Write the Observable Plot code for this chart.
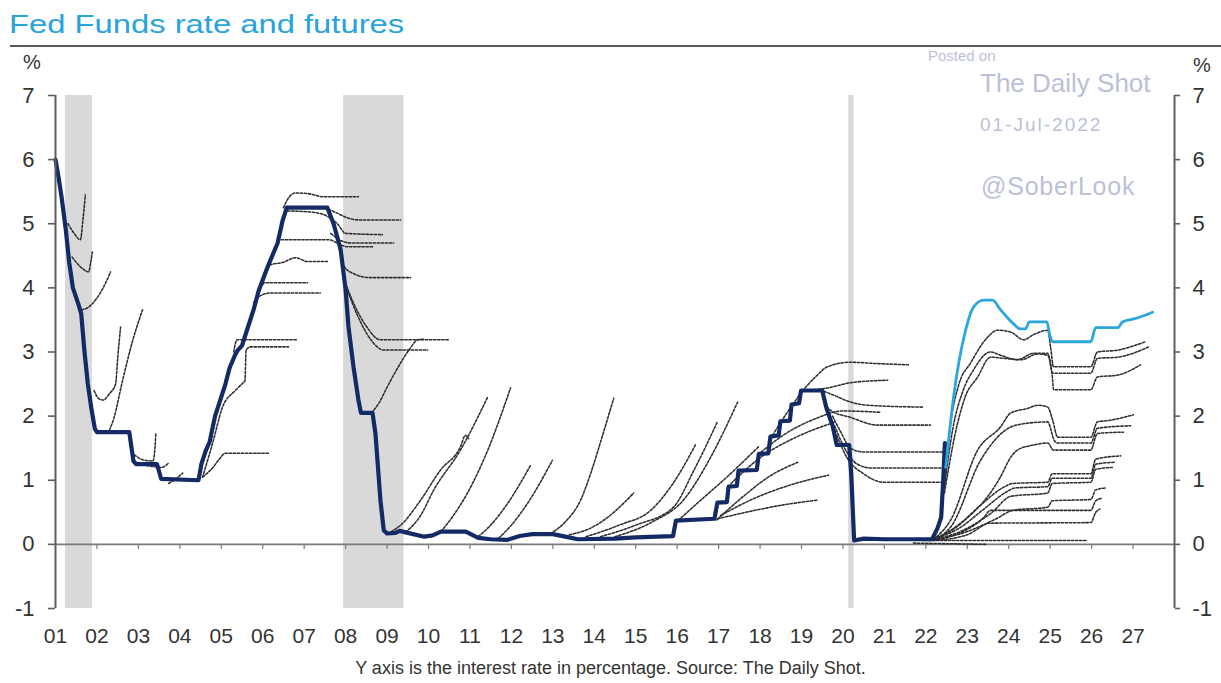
<!DOCTYPE html>
<html>
<head>
<meta charset="utf-8">
<script src="https://cdn.jsdelivr.net/npm/d3@7"></script>
<script src="https://cdn.jsdelivr.net/npm/@observablehq/plot@0.6"></script>
<style>
  body { margin: 0; background: #fff; }
  #wrap { position: relative; width: 1221px; height: 683px; overflow: hidden; background: #fff; font-family: Arial, "Liberation Sans", sans-serif; }
  #chart { position: absolute; left: 0; top: 0; }
  .abs { position: absolute; white-space: nowrap; line-height: 1; }
  #title { left: 9px; top: 11px; font-size: 26px; color: #29a3db; transform: scaleX(1.26); transform-origin: 0 0; }
  #rule { left: 10px; top: 45px; width: 1211px; height: 2px; background: #5a5a5a; }
  .pct { font-size: 20px; color: #333; }
  .wm { color: #bcbfd9; }
  #posted { left: 928px; top: 48px; font-size: 15px; }
  #caption { left: 0; width: 1221px; text-align: center; top: 659px; font-size: 18px; color: #333; }
</style>
</head>
<body>
<div id="wrap">
  <div id="chart"></div>
  <div class="abs" id="title">Fed Funds rate and futures</div>
  <div class="abs" id="rule"></div>
  <div class="abs wm" id="posted">Posted on</div>
  <div class="abs pct" style="left:23px;top:52px;">%</div>
  <div class="abs pct" style="left:1193px;top:55px;">%</div>
  <div class="abs wm" style="left:980px;top:70px;font-size:26px;">The Daily Shot</div>
  <div class="abs wm" style="left:980px;top:115px;font-size:19px;letter-spacing:2px;">01-Jul-2022</div>
  <div class="abs wm" style="left:981px;top:174px;font-size:25px;letter-spacing:0.8px;">@SoberLook</div>
  <div class="abs" id="caption">Y axis is the interest rate in percentage. Source: The Daily Shot.</div>
</div>
<script>
// ---------- data ----------
const yearTicks = [2001,2002,2003,2004,2005,2006,2007,2008,2009,2010,2011,2012,2013,2014,2015,2016,2017,2018,2019,2020,2021,2022,2023,2024,2025,2026,2027];
const yearLabels = ["01","02","03","04","05","06","07","08","09","10","11","12","13","14","15","16","17","18","19","20","21","22","23","24","25","26","27"];
const yTicks = [-1,0,1,2,3,4,5,6,7];

const recessionStart = [2001.24, 2007.95, 2020.14];
const recessionEnd   = [2001.89, 2009.41, 2020.27];

// Fed Funds effective rate [year, %]
const fedFunds = [
  [2001.0,6.0],[2001.08,5.7],[2001.15,5.4],[2001.25,4.9],[2001.33,4.4],[2001.42,4.0],[2001.55,3.75],[2001.62,3.6],
  [2001.7,3.0],[2001.78,2.5],[2001.87,2.1],[2001.95,1.8],[2002.0,1.75],[2002.78,1.75],[2002.88,1.3],[2002.95,1.25],
  [2003.45,1.25],[2003.55,1.02],[2004.45,1.0],[2004.52,1.25],[2004.62,1.45],[2004.72,1.6],[2004.85,2.0],[2004.95,2.2],
  [2005.1,2.5],[2005.2,2.75],[2005.33,2.95],[2005.4,3.03],[2005.5,3.1],[2005.6,3.3],[2005.78,3.66],[2005.9,3.95],
  [2006.12,4.33],[2006.36,4.7],[2006.48,5.05],[2006.58,5.25],[2007.56,5.25],[2007.71,5.0],[2007.88,4.6],[2008.0,3.97],
  [2008.07,3.39],[2008.19,2.77],[2008.31,2.25],[2008.37,2.05],[2008.65,2.05],[2008.72,1.73],[2008.84,0.69],[2008.92,0.22],
  [2009.0,0.17],[2009.2,0.18],[2009.3,0.21],[2009.5,0.18],[2009.9,0.12],[2010.1,0.14],[2010.3,0.2],[2010.9,0.2],
  [2011.2,0.1],[2011.5,0.08],[2011.9,0.07],[2012.2,0.13],[2012.5,0.16],[2013.0,0.16],[2013.3,0.12],[2013.6,0.08],
  [2014.5,0.09],[2015.0,0.11],[2015.9,0.13],[2015.97,0.37],[2016.9,0.4],[2016.97,0.65],[2017.2,0.66],[2017.24,0.9],
  [2017.44,0.91],[2017.48,1.15],[2017.92,1.16],[2017.97,1.41],[2018.2,1.42],[2018.25,1.68],[2018.45,1.7],[2018.49,1.92],
  [2018.72,1.93],[2018.76,2.18],[2018.94,2.2],[2018.99,2.4],[2019.5,2.4],[2019.6,2.13],[2019.75,1.85],[2019.85,1.55],
  [2020.15,1.55],[2020.2,1.1],[2020.27,0.06],[2020.5,0.09],[2021.0,0.08],[2021.5,0.08],[2022.15,0.08],[2022.28,0.25],
  [2022.37,0.42],[2022.42,1.0],[2022.46,1.58]
];

// Latest futures curve (01-Jul-2022)
const latestCurve = [
  [2022.48,1.2],[2022.67,2.3],[2022.96,3.34],[2023.15,3.7],[2023.39,3.81],[2023.61,3.81],[2023.8,3.66],[2023.95,3.55],
  [2024.1,3.45],[2024.28,3.36],[2024.4,3.36],[2024.5,3.47],[2024.92,3.47],[2024.99,3.27],[2025.06,3.16],[2025.98,3.16],
  [2026.1,3.38],[2026.63,3.38],[2026.75,3.47],[2027.1,3.53],[2027.47,3.62]
];

// Historical futures curves, grouped by era
const curves2001to2006 = [
  [[2001.3,5.0],[2001.45,4.85],[2001.6,4.75],[2001.66,5.05],[2001.72,5.45]],
  [[2001.4,4.48],[2001.6,4.33],[2001.8,4.25],[2001.85,4.4],[2001.89,4.56]],
  [[2001.63,3.66],[2001.75,3.68],[2001.95,3.8],[2002.15,4.0],[2002.33,4.25]],
  [[2001.93,2.4],[2002.05,2.27],[2002.15,2.25],[2002.3,2.35],[2002.45,2.5],[2002.5,2.9],[2002.57,3.39]],
  [[2002.3,1.78],[2002.4,1.95],[2002.62,2.56],[2002.85,3.15],[2003.1,3.66]],
  [[2002.9,1.4],[2003.1,1.32],[2003.35,1.3],[2003.4,1.5],[2003.42,1.73]],
  [[2003.0,1.25],[2003.3,1.22],[2003.55,1.2],[2003.73,1.27]],
  [[2003.73,0.95],[2003.9,1.02],[2004.07,1.11]],
  [[2004.55,1.05],[2004.8,1.2],[2004.93,1.31],[2005.1,1.42],[2006.14,1.42]],
  [[2004.55,1.05],[2004.8,1.6],[2005.03,2.14],[2005.34,2.4],[2005.51,2.51],[2005.57,2.55],[2005.6,3.03],[2005.7,3.08],[2006.62,3.08]],
  [[2005.3,3.0],[2005.38,3.19],[2006.84,3.19]],
  [[2006.0,4.05],[2006.05,4.08],[2007.08,4.08]],
  [[2005.78,3.77],[2005.95,3.88],[2006.2,3.92],[2007.39,3.92]],
  [[2006.12,4.3],[2006.19,4.36],[2006.5,4.4],[2006.79,4.47],[2007.08,4.41],[2007.56,4.41]]
];
const curves2006to2010 = [
  [[2006.35,4.75],[2007.6,4.75],[2007.85,4.68],[2008.05,4.64],[2008.65,4.64]],
  [[2006.5,5.25],[2006.6,5.38],[2006.79,5.48],[2007.1,5.47],[2007.47,5.42],[2008.31,5.42]],
  [[2007.5,5.25],[2007.75,5.18],[2008.05,5.09],[2008.3,5.06],[2009.33,5.06]],
  [[2006.6,5.2],[2007.2,5.18],[2007.6,5.1],[2007.8,5.0],[2008.0,4.85],[2008.89,4.83]],
  [[2007.64,4.85],[2007.85,4.75],[2008.12,4.7],[2009.16,4.7]],
  [[2007.75,4.9],[2007.85,4.6],[2007.97,4.33],[2008.2,4.22],[2008.6,4.16],[2009.57,4.16]],
  [[2007.98,4.1],[2008.2,3.75],[2008.5,3.4],[2008.84,3.19],[2010.48,3.19]],
  [[2008.05,3.95],[2008.3,3.55],[2008.6,3.2],[2008.92,3.03],[2009.98,3.03]],
  [[2008.62,2.05],[2008.8,2.2],[2009.0,2.45],[2009.3,2.8],[2009.55,3.05],[2009.74,3.19],[2009.9,3.2]]
];
const curves2009to2017 = [
  [[2009.1,0.2],[2009.33,0.3],[2009.81,0.69],[2010.29,1.16],[2010.77,1.52],[2010.89,1.7],[2010.97,1.65]],
  [[2009.45,0.19],[2009.81,0.45],[2010.12,0.84],[2010.77,1.47],[2011.43,2.3]],
  [[2010.3,0.2],[2010.6,0.45],[2010.94,0.8],[2011.43,1.47],[2011.98,2.44]],
  [[2011.2,0.12],[2011.5,0.3],[2011.91,0.64],[2012.46,1.23]],
  [[2011.7,0.1],[2012.0,0.3],[2012.39,0.64],[2012.99,1.31]],
  [[2012.95,0.17],[2013.3,0.35],[2013.67,0.69],[2013.91,1.1],[2014.2,1.7],[2014.47,2.28]],
  [[2013.4,0.15],[2013.9,0.25],[2014.32,0.42],[2014.95,0.8]],
  [[2013.8,0.12],[2014.6,0.3],[2015.36,0.53],[2015.9,0.95],[2016.44,1.55]],
  [[2014.15,0.12],[2015.0,0.3],[2015.91,0.58],[2016.4,1.15],[2016.97,1.91]],
  [[2014.5,0.12],[2015.4,0.35],[2016.15,0.69],[2016.8,1.35],[2017.46,2.22]]
];
const curves2016to2022 = [
  [[2015.95,0.33],[2016.5,0.65],[2017.2,1.05],[2017.96,1.52]],
  [[2016.95,0.38],[2017.6,0.75],[2018.2,1.05],[2018.91,1.28]],
  [[2017.05,0.45],[2017.8,0.7],[2018.7,0.92],[2019.65,1.08]],
  [[2016.98,0.4],[2017.8,0.52],[2018.6,0.62],[2019.39,0.69]],
  [[2017.3,0.95],[2018.0,1.35],[2018.8,1.65],[2019.82,1.91]],
  [[2017.95,1.4],[2018.6,1.72],[2019.3,1.95],[2019.99,2.08],[2020.91,2.06]],
  [[2018.3,1.7],[2018.7,2.1],[2019.1,2.45],[2019.35,2.62],[2019.63,2.77],[2020.18,2.84],[2020.8,2.82],[2021.58,2.8]],
  [[2019.1,2.4],[2019.4,2.42],[2019.63,2.44],[2020.18,2.52],[2021.08,2.56]],
  [[2019.45,2.41],[2019.8,2.32],[2020.18,2.22],[2020.59,2.17],[2021.95,2.14]],
  [[2019.55,2.2],[2019.7,2.09],[2020.18,1.98],[2020.84,1.86],[2022.11,1.86]],
  [[2019.75,2.0],[2019.95,1.75],[2020.18,1.5],[2020.5,1.44],[2022.43,1.44]],
  [[2019.8,1.85],[2020.0,1.55],[2020.35,1.25],[2020.7,1.19],[2022.43,1.19]],
  [[2019.85,1.7],[2020.1,1.35],[2020.5,1.1],[2020.98,0.97],[2022.43,0.97]]
];
const curves2022to2027 = [
  [[2022.45,1.0],[2022.6,1.9],[2022.8,2.5],[2023.08,2.83],[2023.49,3.23],[2023.73,3.34],[2024.05,3.31],[2024.36,3.19],[2024.6,3.27],[2024.94,3.34],[2025.01,3.08],[2025.08,2.77],[2025.98,2.77],[2026.14,3.0],[2026.63,3.03],[2027.3,3.16]],
  [[2022.45,0.9],[2022.65,1.8],[2022.9,2.4],[2023.15,2.72],[2023.56,3.0],[2023.8,2.95],[2024.21,2.88],[2024.6,2.98],[2024.94,2.98],[2025.06,2.67],[2025.98,2.67],[2026.14,2.9],[2026.63,2.92],[2027.38,3.08]],
  [[2022.45,0.8],[2022.7,1.7],[2022.95,2.3],[2023.25,2.61],[2023.56,2.92],[2023.9,2.9],[2024.3,2.88],[2024.7,2.97],[2024.94,2.95],[2025.06,2.56],[2025.08,2.41],[2025.98,2.41],[2026.14,2.61],[2026.63,2.64],[2027.18,2.8]],
  [[2022.19,0.08],[2022.6,0.38],[2023.25,1.47],[2023.8,1.83],[2024.05,2.05],[2024.46,2.12],[2024.7,2.17],[2024.94,2.14],[2025.06,1.94],[2025.18,1.67],[2025.98,1.67],[2026.14,1.91],[2026.39,1.93],[2027.01,2.02]],
  [[2022.19,0.08],[2022.6,0.27],[2023.32,1.31],[2024.05,1.83],[2024.46,1.89],[2024.94,1.91],[2025.1,1.62],[2025.18,1.58],[2025.98,1.58],[2026.14,1.81],[2026.94,1.85]],
  [[2022.19,0.07],[2022.67,0.25],[2023.8,1.05],[2024.05,1.36],[2024.21,1.47],[2024.6,1.55],[2024.94,1.58],[2025.08,1.47],[2025.98,1.47],[2026.14,1.73],[2026.77,1.75]],
  [[2022.19,0.08],[2022.7,0.25],[2023.3,0.6],[2023.85,0.88],[2024.1,0.95],[2024.94,0.97],[2025.05,1.1],[2025.98,1.1],[2026.1,1.33],[2026.7,1.38]],
  [[2022.19,0.08],[2022.8,0.25],[2023.4,0.55],[2023.95,0.82],[2024.15,0.88],[2024.94,0.9],[2025.05,1.03],[2025.98,1.03],[2026.1,1.25],[2026.55,1.28]],
  [[2022.19,0.07],[2022.9,0.22],[2023.6,0.5],[2024.05,0.75],[2024.94,0.8],[2025.05,0.95],[2025.98,0.97],[2026.1,1.17],[2026.5,1.2]],
  [[2022.19,0.07],[2023.0,0.2],[2023.7,0.4],[2024.1,0.53],[2024.94,0.58],[2025.05,0.68],[2025.98,0.7],[2026.1,0.85],[2026.35,0.88]],
  [[2022.19,0.07],[2022.9,0.2],[2023.4,0.42],[2023.56,0.53],[2025.98,0.53],[2026.1,0.68],[2026.25,0.72]],
  [[2022.19,0.06],[2023.0,0.15],[2023.4,0.3],[2023.5,0.33],[2025.98,0.34],[2026.1,0.5],[2026.2,0.55]],
  [[2021.95,0.06],[2025.9,0.06]],
  [[2021.7,0.02],[2023.45,0.0]]
];

// ---------- build tables ----------
const xDomain = [2001, 2028];
const yDomain = [-1, 7];
const recessions = recessionStart.map((s, i) => ({start: s, end: recessionEnd[i]}));
const toRows = pts => pts.map(([x, y]) => ({x, y}));
const allCurves = [...curves2001to2006, ...curves2006to2010, ...curves2009to2017, ...curves2016to2022, ...curves2022to2027];
const futureRows = allCurves.flatMap((pts, i) => pts.map(([x, y]) => ({id: i, x, y})));
const fontFam = "Arial, 'Liberation Sans', sans-serif";

const chart = Plot.plot({
  width: 1221,
  height: 683,
  marginTop: 95,
  marginBottom: 75,
  marginLeft: 55,
  marginRight: 47,
  x: {domain: xDomain, label: null},
  y: {domain: yDomain, label: null},
  style: {fontFamily: fontFam, fontSize: "21px", color: "#333", background: "transparent", overflow: "visible"},
  marks: [
    Plot.rect(recessions, {x1: "start", x2: "end", y1: yDomain[0], y2: yDomain[1], fill: "#d9d9d9"}),
    Plot.ruleY([0], {stroke: "#7a7a7a", strokeWidth: 1.6}),
    Plot.ruleX(yearTicks.slice(1), {y1: 0, y2: -0.08, stroke: "#7a7a7a", strokeWidth: 1.2}),
    Plot.line(futureRows, {x: "x", y: "y", z: "id", stroke: "#2e2e2e", strokeWidth: 1.55, strokeDasharray: "2.4,1.7", curve: "monotone-x"}),
    Plot.line(toRows(fedFunds), {x: "x", y: "y", stroke: "#142a66", strokeWidth: 4.2, strokeLinejoin: "round"}),
    Plot.line(toRows(latestCurve), {x: "x", y: "y", stroke: "#2aa7df", strokeWidth: 2.8, curve: "monotone-x", strokeLinejoin: "round"}),
    Plot.ruleX(xDomain, {stroke: "#5e5e5e", strokeWidth: 2}),
    Plot.axisY(yTicks, {anchor: "left", tickSize: 7, tickPadding: 14, fontSize: 22, stroke: "#5e5e5e", strokeWidth: 1.6, fill: "#333", tickFormat: d => String(d), label: null}),
    Plot.axisY(yTicks, {anchor: "right", tickSize: 5, tickPadding: 13, fontSize: 22, stroke: "#5e5e5e", strokeWidth: 1.6, fill: "#333", tickFormat: d => String(d), label: null}),
    Plot.axisX(yearTicks, {anchor: "bottom", tickSize: 0, tickPadding: 20, fontSize: 21, fill: "#333", tickFormat: d => yearLabels[yearTicks.indexOf(d)], label: null})
  ]
});
document.getElementById("chart").appendChild(chart);
</script>
</body>
</html>
